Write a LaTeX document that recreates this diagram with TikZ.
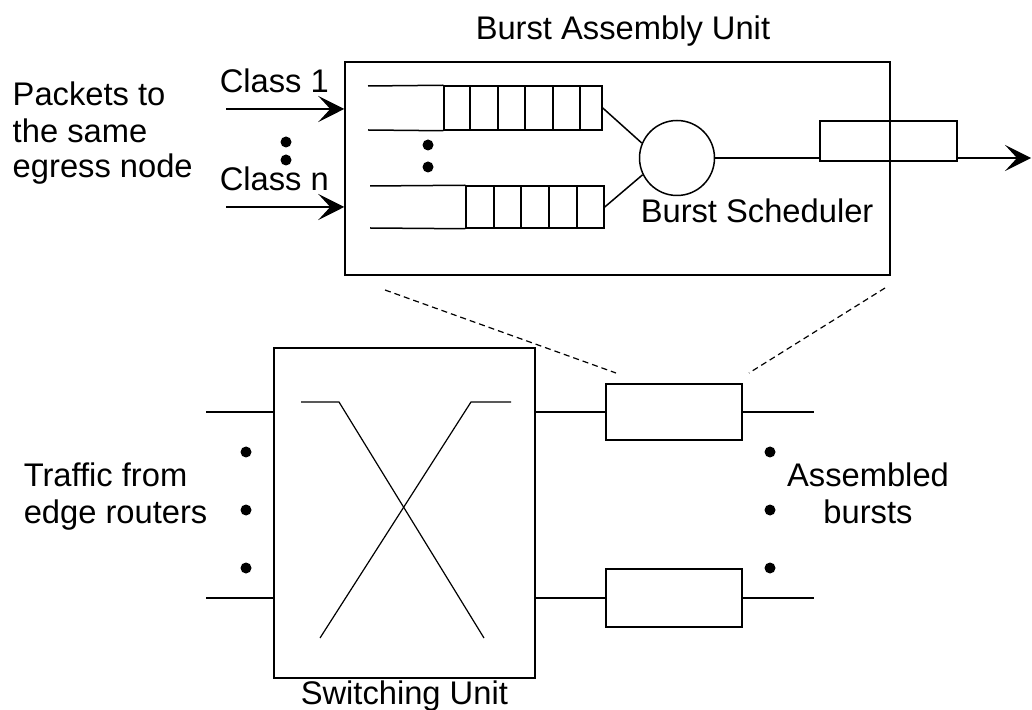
\documentclass[tikz,border=0pt]{standalone}
\usepackage{fontspec}
\setmainfont{Liberation Sans}
\usetikzlibrary{arrows.meta,calc}
\begin{document}
\begin{tikzpicture}[x=0.5pt,y=-0.5pt,
  every path/.style={line width=0.75pt},
  lbl/.style={anchor=base west,inner sep=0pt,font=\fontsize{16.35}{18}\selectfont},
  box/.style 2 args={draw,rectangle,inner sep=0pt,minimum width={#1*0.5pt},minimum height={#2*0.5pt}},
  arr/.style={-{Stealth[length=13pt,width=13pt,inset=6pt]}},
  dotmark/.style={circle,fill,inner sep=0pt,minimum size=5.5pt},
  zoomline/.style={dash pattern=on 3pt off 2pt,line width=0.6pt}]
\useasboundingbox (0,0) rectangle (1032,710);

% ---- Burst assembly unit ----
\node[box={545}{213}] (bau) at (617.5,168.5) {};
\node[lbl] (title) at (475,40) {Burst Assembly Unit};

% queue 1
\node[box={158}{44}] (q1) at (523,108) {};
\draw (q1.north west) -- (368,86);
\draw (q1.south west) -- (368,130);
\foreach \x in {470,498,525,553,580} \draw (\x,86) -- (\x,130);
% queue 2
\node[box={138}{42}] (q2) at (535,207) {};
\draw (q2.north west) -- (370,186);
\draw (q2.south west) -- (370,228);
\foreach \x in {494,521,549,577} \draw (\x,186) -- (\x,228);

\node[dotmark] (qd1) at (428,145) {};
\node[dotmark] (qd2) at (428,167) {};

% scheduler
\node[draw,circle,inner sep=0pt,minimum size=37.5pt] (sch) at (677,158) {};
\draw (q1.east) -- (sch.157);
\draw (q2.east) -- (sch.206);
\node[lbl] (schl) at (640,223) {Burst Scheduler};

% output buffer
\node[box={137}{40}] (outr) at (888.5,141) {};
\draw (sch.east) -- (sch.east -| outr.west);
\coordinate (arrend) at (1031,158);
\draw[arr] (sch.east -| outr.east) -- (arrend);

% input classes
\coordinate (c1s) at (226,109);
\coordinate (cns) at (226,207);
\draw[arr] (c1s) -- (c1s -| bau.west);
\draw[arr] (cns) -- (cns -| bau.west);
\node[lbl] (cl1) at (219,93) {Class 1};
\node[lbl] (cln) at (219,191) {Class n};
\node[dotmark] (cd1) at (286,142) {};
\node[dotmark] (cd2) at (286,160) {};

\node[lbl] (pk1) at (12,106) {Packets to};
\node[lbl] (pk2) at (12,143) {the same};
\node[lbl] (pk3) at (12,178) {egress node};

% ---- switching unit ----
\node[box={261}{330}] (sw) at (404.5,513) {};
\node[lbl] (swl) at (300,704) {Switching Unit};
\coordinate (in1) at (206,412);
\coordinate (in2) at (206,598);
\draw (in1) -- (in1 -| sw.west);
\draw (in2) -- (in2 -| sw.west);
\draw[line width=0.6pt] (301,402) -- (339,402) -- (484,638);
\draw[line width=0.6pt] (511,402) -- (471,402) -- (320,638);

\foreach \y/\n in {452/a,510/b,568/c} {
  \node[dotmark] (ld\n) at (246,\y) {};
  \node[dotmark] (rd\n) at (770,\y) {};
}

% burst buffers
\node[box={136}{56}] (b1) at (674,412) {};
\node[box={136}{58}] (b2) at (674,598) {};
\coordinate (o1) at (814,412);
\coordinate (o2) at (814,598);
\draw (b1.west -| sw.east) -- (b1.west);
\draw (b2.west -| sw.east) -- (b2.west);
\draw (b1.east) -- (o1);
\draw (b2.east) -- (o2);

\node[lbl] (tr1) at (23,487) {Traffic from};
\node[lbl] (tr2) at (23,523) {edge routers};
\node[lbl,anchor=base] (as1) at (868,487) {Assembled};
\node[lbl,anchor=base] (as2) at (868,523) {bursts};

% zoom lines
\coordinate (zl1) at (385,290);
\coordinate (zl2) at (616,373);
\coordinate (zr1) at (885,288);
\coordinate (zr2) at (749,373);
\draw[zoomline] (zl1) -- (zl2);
\draw[zoomline] (zr1) -- (zr2);
\end{tikzpicture}
\end{document}
